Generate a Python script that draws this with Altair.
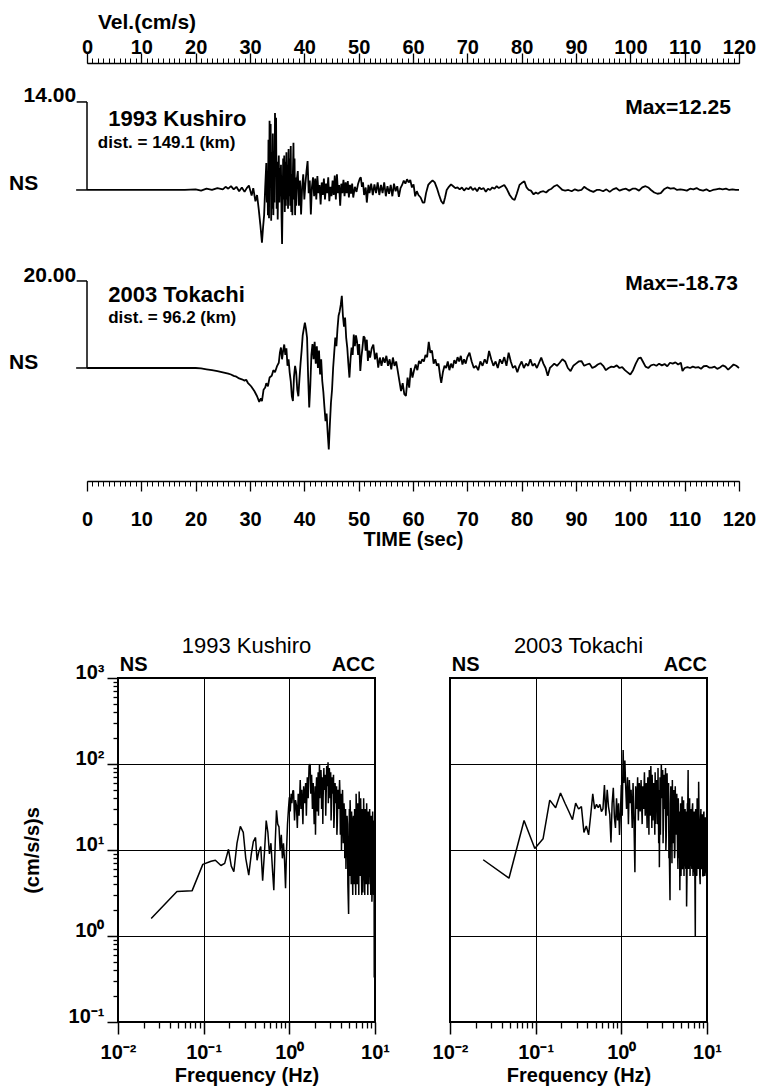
import altair as alt
import pandas as pd

FONT = "Liberation Sans"
BLACK = "black"

# ---------------- velocity seismograms (time s, velocity cm/s) ----------------
kushiro_trace = [
    (0, 0), (18, 0), (20, 0.1), (21, -0.1), (22, 0.2), (23, 0.0), (24, 0.3), (25, 0.1), (25.5, 0.5), (26, 0.2),
    (26.5, 0.6), (27, 0.1), (27.5, 0.5), (28, -0.2), (28.5, 0.4), (29, -0.3), (29.4, 0.3), (29.8, 0.7), (30.3, -0.9), (30.6, 0.3),
    (31.0, -1.8), (31.3, -0.8), (31.6, -3.0), (31.9, -5.5), (32.2, -8.4), (32.4, -6.0), (32.6, -4.0), (32.8, 0.5), (33.0, 4.3), (33.1, -2.0),
    (33.2, 3.0), (33.3, -4.0), (33.4, 8.0), (33.5, -4.5), (33.6, 11.0), (33.7, 2.0), (33.8, 10.5), (33.9, -4.9), (34.0, 6.0), (34.1, -3.0),
    (34.2, 9.0), (34.3, -4.0), (34.4, 3.0), (34.5, -2.0), (34.6, 12.25), (34.7, 6.0), (34.8, 11.5), (34.9, -3.0), (35.0, 4.5), (35.1, -4.7),
    (35.2, 2.0), (35.3, 5.5), (35.4, -2.0), (35.5, 3.5), (35.6, -1.0), (35.7, 4.0), (35.8, -4.0), (35.9, -8.6), (36.0, -2.0), (36.1, 5.0),
    (36.2, -1.5), (36.3, 5.5), (36.4, -3.5), (36.5, 4.5), (36.6, -2.5), (36.7, 6.0), (36.8, -1.5), (36.9, 4.0), (37.0, -3.0), (37.1, 6.5),
    (37.2, -1.0), (37.3, 5.0), (37.4, -2.5), (37.5, 7.0), (37.6, -3.5), (37.7, 2.5), (37.8, -4.0), (37.9, 3.0), (38.0, 7.5), (38.1, -1.5),
    (38.2, 5.0), (38.3, -4.0), (38.4, 2.0), (38.5, -2.5), (38.6, 1.5), (38.8, 3.0), (39.0, -2.5), (39.2, 1.5), (39.4, -3.9), (39.6, 0.5),
    (39.8, 2.5), (40.0, -1.5), (40.2, 1.0), (40.4, 3.0), (40.6, 4.6), (40.8, -0.5), (41.0, 1.5), (41.2, -3.9), (41.4, 0.5), (41.6, 2.0),
    (41.8, -1.0), (42.0, 1.8), (42.2, -1.5), (42.4, 2.2), (42.6, -0.5), (42.8, 0.8), (43.0, -2.3), (43.2, 1.2), (43.4, -0.8), (43.6, 1.8),
    (43.8, -1.5), (44.0, 1.0), (44.2, -0.5), (44.4, 2.0), (44.6, -1.8), (44.8, 0.5), (45.0, -1.0), (45.2, 1.5), (45.4, -0.8), (45.6, 2.3),
    (45.8, -1.5), (46.0, 2.5), (46.2, -0.5), (46.4, 0.8), (46.6, -2.5), (46.8, 1.0), (47.0, -0.5), (47.2, 1.6), (47.4, -1.0), (47.6, 1.2),
    (47.8, -0.5), (48.0, 1.4), (48.2, -1.2), (48.4, 0.8), (48.6, -0.6), (48.8, 1.0), (49.0, -1.2), (49.3, 0.5), (49.6, -0.3), (49.9, 1.0),
    (50.2, 1.8), (50.4, 2.0), (50.6, 0.5), (50.8, 1.2), (51.0, -0.8), (51.3, 0.4), (51.5, -2.0), (51.8, 0.8), (52.0, -0.5), (52.3, 1.0),
    (52.6, -0.8), (52.9, 0.9), (53.2, -0.5), (53.5, 1.2), (53.8, -0.8), (54.1, 0.8), (54.4, -0.5), (54.7, 1.2), (55.0, -1.0), (55.3, 0.6),
    (55.6, -0.6), (55.9, 0.8), (56.2, -1.0), (56.5, 1.0), (56.8, -0.2), (57.1, 0.6), (57.4, -1.1), (57.7, 0.3), (58.0, 0.8), (58.3, 1.5),
    (58.6, 1.0), (58.9, 1.7), (59.2, 1.2), (59.5, 1.6), (59.8, 0.4), (60.1, 0.9), (60.4, -1.0), (60.7, -0.2), (61.0, -0.8), (61.4, -1.2),
    (61.8, -2.0), (62.1, -2.0), (62.4, -0.5), (62.8, 0.8), (63.2, 1.2), (63.6, 1.5), (64.0, 1.2), (64.4, 0.3), (64.8, -0.8), (65.2, -1.8),
    (65.6, -2.2), (65.9, -1.2), (66.2, 0.0), (66.6, 0.5), (67.0, 0.9), (67.4, 0.6), (67.8, 0.3), (68.2, 0.4), (68.6, 0.1), (69.0, 0.4),
    (69.4, -0.1), (69.8, 0.3), (70.2, 0.1), (70.6, 0.5), (71.0, 0.0), (71.4, 0.3), (71.8, -0.2), (72.2, 0.4), (72.6, 0.1), (73.0, 0.3),
    (73.4, -0.3), (73.8, 0.2), (74.2, 0.0), (74.6, 0.4), (75.0, 0.2), (75.4, 0.6), (75.8, 0.3), (76.2, 0.5), (76.8, 0.8), (77.3, 0.1),
    (77.8, -0.8), (78.3, -1.4), (78.7, -1.6), (79.1, -0.6), (79.6, 0.8), (80.0, 1.1), (80.5, 1.4), (80.9, 0.4), (81.3, 0.0), (81.7, -0.1),
    (82.2, -0.7), (82.6, -0.4), (83.0, -0.6), (83.5, -0.3), (84.0, -0.2), (84.5, -0.4), (85.0, 0.0), (85.5, 0.2), (86.0, 0.6), (86.5, 0.8),
    (87.0, 0.4), (87.5, 0.0), (88.0, -0.1), (88.6, 0.0), (89.2, -0.2), (89.8, 0.1), (90.4, -0.1), (91.0, 0.0), (91.5, 0.5), (92.0, 0.2),
    (92.6, -0.1), (93.2, -0.3), (93.8, 0.0), (94.4, 0.0), (95.0, -0.2), (95.6, 0.1), (96.2, -0.3), (96.8, 0.1), (97.4, 0.3), (98.0, -0.1),
    (98.6, 0.1), (99.2, 0.2), (99.8, -0.1), (100.4, 0.2), (101.0, 0.2), (101.6, -0.1), (102.2, 0.4), (102.8, 0.6), (103.3, 0.4), (103.8, 0.0),
    (104.4, -0.4), (105.0, -0.6), (105.6, -0.5), (106.2, 0.1), (106.8, 0.4), (107.4, 0.2), (108.0, 0.3), (108.6, 0.0), (109.2, 0.1), (109.8, 0.0),
    (110.4, -0.1), (111.0, 0.2), (111.6, 0.1), (112.2, 0.3), (112.8, 0.0), (113.4, -0.1), (114.0, 0.1), (114.6, -0.2), (115.2, 0.0), (115.8, 0.1),
    (116.4, 0.2), (117.0, 0.1), (117.6, 0.2), (118.2, 0.0), (118.8, 0.1), (119.4, 0.0), (120.0, 0.0),
]

tokachi_trace = [
    (0, 0), (20, 0), (21, -0.1), (22, -0.3), (23, -0.5), (24, -0.7), (25, -1.0), (26, -1.3), (26.5, -1.5), (27, -1.8),
    (27.5, -2.0), (28, -2.4), (28.5, -2.6), (29, -2.9), (29.3, -2.7), (29.6, -3.4), (30.2, -4.2), (30.8, -5.3), (31.3, -6.5), (31.7, -7.8),
    (32.0, -7.0), (32.2, -7.6), (32.5, -5.0), (32.8, -4.5), (33.0, -3.5), (33.3, -4.2), (33.6, -2.2), (34.0, -1.8), (34.3, -0.5), (34.6, -1.0),
    (35.0, 0.5), (35.3, 1.2), (35.5, 3.5), (35.7, 4.7), (35.9, 2.0), (36.1, 4.0), (36.3, 5.4), (36.5, 3.0), (36.7, 4.5), (36.9, 0.5),
    (37.1, 2.0), (37.3, -1.0), (37.5, -3.0), (37.7, -6.5), (37.9, -7.6), (38.1, -2.0), (38.3, 0.5), (38.5, -1.0), (38.7, -5.0), (38.9, -6.5),
    (39.1, -2.5), (39.3, 1.0), (39.5, 4.0), (39.7, 7.5), (39.9, 9.0), (40.1, 10.4), (40.3, 9.0), (40.5, 7.0), (40.7, -2.0), (40.9, -9.1),
    (41.1, -4.0), (41.3, 3.0), (41.5, 5.5), (41.7, 2.0), (41.9, 6.0), (42.1, 1.0), (42.3, 5.0), (42.5, 0.0), (42.7, 4.0), (42.9, -1.5),
    (43.1, 2.0), (43.3, -3.0), (43.5, -5.5), (43.7, -9.0), (43.9, -12.2), (44.1, -10.5), (44.3, -15.0), (44.5, -18.73), (44.7, -13.0), (44.9, -8.0),
    (45.1, -5.0), (45.3, 0.0), (45.5, 3.5), (45.7, 7.0), (45.9, 5.0), (46.1, 9.0), (46.3, 12.0), (46.5, 13.0), (46.7, 14.5), (46.9, 16.6),
    (47.1, 12.0), (47.3, 9.5), (47.5, 11.6), (47.7, 7.0), (47.9, 4.7), (48.1, 1.0), (48.3, -2.2), (48.5, 2.0), (48.7, 4.7), (48.9, 3.0),
    (49.1, 7.7), (49.3, 5.0), (49.5, 7.5), (49.7, 6.1), (49.9, 3.0), (50.1, 5.5), (50.3, -0.7), (50.5, 2.5), (50.7, 4.7), (50.9, 7.3),
    (51.1, 7.0), (51.3, 4.0), (51.5, 6.5), (51.7, 1.6), (51.9, 4.0), (52.1, 2.4), (52.4, 4.5), (52.7, 5.4), (53.0, 2.0), (53.3, 3.5),
    (53.6, 0.1), (53.9, 2.4), (54.2, 0.5), (54.5, 2.4), (54.8, 1.2), (55.1, 2.8), (55.4, 0.5), (55.7, 2.0), (56.0, -0.3), (56.3, 2.4),
    (56.6, 0.5), (56.9, 1.5), (57.2, -0.7), (57.5, -3.0), (57.8, -5.3), (58.1, -3.5), (58.4, -6.0), (58.7, -6.4), (59.0, -2.2), (59.3, -4.5),
    (59.6, 0.0), (59.9, -2.2), (60.2, -0.5), (60.5, 0.8), (60.8, -0.5), (61.1, 1.6), (61.4, 1.0), (61.7, 2.0), (62.0, 1.5), (62.3, 3.0),
    (62.6, 2.5), (62.9, 6.0), (63.2, 3.5), (63.5, 4.0), (63.8, 1.0), (64.1, 2.0), (64.4, 0.5), (64.7, 1.0), (65.0, -2.0), (65.2, -3.4),
    (65.5, -1.0), (65.8, 0.5), (66.1, 0.0), (66.4, 1.5), (66.7, -0.5), (67.0, 1.0), (67.3, 0.0), (67.6, 1.8), (67.9, 1.0), (68.2, 2.5),
    (68.5, 1.5), (68.8, 2.8), (69.1, 0.8), (69.4, 2.0), (69.7, 1.0), (70.0, 2.5), (70.4, 3.5), (70.8, 1.5), (71.2, 0.0), (71.6, 0.5),
    (72.0, -0.5), (72.4, 1.5), (72.8, 0.5), (73.2, 2.0), (73.6, 1.0), (74.0, 3.9), (74.4, 2.0), (74.8, 0.5), (75.2, 1.5), (75.6, 0.0),
    (76.0, 2.0), (76.4, 1.0), (76.8, 2.5), (77.2, 0.5), (77.6, 3.5), (78.0, 1.5), (78.4, 0.0), (78.8, 0.5), (79.2, -1.0), (79.6, 0.5),
    (80.0, 1.5), (80.4, 0.0), (80.8, 1.0), (81.2, 0.5), (81.6, 2.0), (82.0, 0.5), (82.4, 1.0), (82.8, 0.0), (83.2, 1.2), (83.6, 2.4),
    (84.0, 1.0), (84.4, 0.0), (84.8, -1.8), (85.2, 0.0), (85.6, 0.5), (86.0, 1.0), (86.5, 0.5), (87.0, 1.2), (87.5, 2.0), (88.0, 1.5),
    (88.5, 0.0), (89.0, -0.7), (89.5, 0.5), (90.0, 1.0), (90.5, 1.5), (91.0, 1.6), (91.5, 0.5), (92.0, 0.8), (92.5, 1.0), (93.0, 0.0),
    (93.5, 0.3), (94.0, 0.8), (94.5, 1.1), (95.0, 0.5), (95.5, -0.5), (96.0, 0.0), (96.5, 0.3), (97.0, 0.2), (97.5, 0.6), (98.0, 0.0),
    (98.5, 0.2), (99.0, -0.5), (99.5, -1.0), (100.0, -1.5), (100.5, -0.5), (101.0, 1.0), (101.5, 2.2), (101.9, 2.4), (102.3, 1.5), (102.8, 0.3),
    (103.3, 0.0), (103.8, 0.6), (104.3, 0.8), (104.8, 0.5), (105.3, 1.0), (105.8, 0.6), (106.3, 0.9), (106.8, 0.4), (107.3, 1.2), (107.8, 1.0),
    (108.3, 1.3), (108.8, 0.8), (109.3, 1.2), (109.6, -0.7), (110.0, 0.0), (110.5, 0.2), (111.0, 0.0), (111.5, 0.3), (112.0, 0.1), (112.5, 0.2),
    (113.0, -0.2), (113.5, 0.4), (114.0, 0.5), (114.5, 0.1), (115.0, 0.1), (115.5, 0.3), (116.0, -0.2), (116.5, 0.1), (117.0, 0.6), (117.5, 0.3),
    (118.0, -0.4), (118.5, 0.2), (119.0, 0.8), (119.5, 0.5), (120.0, 0.0),
]

# ---------------- Fourier spectra (frequency Hz, amplitude (cm/s/s)s) ----------------
kushiro_spectrum = [
    (0.0244, 1.6), (0.0488, 3.3), (0.0732, 3.35), (0.0977, 6.8), (0.122, 7.4), (0.137, 7.6), (0.159, 6.6), (0.176, 7.0), (0.195, 10.2), (0.21, 6.5),
    (0.225, 5.6), (0.245, 12.0), (0.268, 18.8), (0.29, 16.0), (0.31, 8.0), (0.336, 5.1), (0.36, 9.0), (0.38, 12.5), (0.403, 14.0), (0.42, 7.6),
    (0.44, 9.5), (0.464, 11.0), (0.488, 4.4), (0.513, 9.5), (0.537, 22.0), (0.562, 16.0), (0.586, 9.0), (0.61, 12.0), (0.635, 6.0), (0.659, 3.4),
    (0.684, 12.0), (0.708, 29.0), (0.732, 20.0), (0.757, 18.6), (0.781, 10.0), (0.806, 15.0), (0.83, 8.0), (0.854, 12.0), (0.879, 7.6), (0.903, 3.6),
    (0.928, 10.0), (0.952, 20.0), (0.977, 30.0), (1.0, 41.0), (1.025, 28.0), (1.05, 45.0), (1.07, 35.0), (1.1, 49.0), (1.12, 49.0), (1.15, 22.0),
    (1.18, 38.0), (1.21, 33.0), (1.24, 18.0), (1.27, 45.0), (1.30, 25.0), (1.34, 65.0), (1.37, 30.0), (1.40, 50.0), (1.44, 20.0), (1.47, 55.0),
    (1.51, 35.0), (1.55, 60.0), (1.58, 25.0), (1.62, 70.0), (1.66, 40.0), (1.70, 95.0), (1.75, 100.0), (1.78, 45.0), (1.82, 75.0), (1.86, 30.0),
    (1.90, 60.0), (1.95, 20.0), (2.00, 55.0), (2.04, 35.0), (2.08, 70.0), (2.12, 28.0), (2.17, 80.0), (2.21, 45.0), (2.25, 100.0), (2.29, 60.0),
    (2.34, 85.0), (2.38, 30.0), (2.43, 70.0), (2.48, 40.0), (2.53, 90.0), (2.58, 50.0), (2.63, 75.0), (2.68, 35.0), (2.73, 95.0), (2.78, 55.0),
    (2.83, 105.0), (2.87, 60.0), (2.93, 90.0), (2.98, 40.0), (3.04, 80.0), (3.10, 30.0), (3.16, 70.0), (3.22, 45.0), (3.28, 75.0), (3.35, 25.0),
    (3.42, 60.0), (3.49, 35.0), (3.56, 55.0), (3.63, 20.0), (3.70, 50.0), (3.78, 30.0), (3.86, 65.0), (3.94, 15.0), (4.02, 45.0), (4.10, 20.0),
    (4.18, 50.0), (4.26, 12.0), (4.35, 35.0), (4.44, 8.0), (4.53, 30.0), (4.62, 10.0), (4.72, 25.0), (4.82, 4.0), (4.92, 1.8), (5.02, 30.0),
    (5.12, 38.0), (5.22, 10.0), (5.33, 28.0), (5.44, 6.0), (5.55, 22.0), (5.66, 8.0), (5.78, 30.0), (5.90, 5.0), (6.02, 45.0), (6.14, 10.0),
    (6.27, 35.0), (6.40, 7.0), (6.53, 48.0), (6.66, 12.0), (6.80, 40.0), (6.94, 6.0), (7.08, 30.0), (7.22, 3.2), (7.37, 40.0), (7.52, 8.0),
    (7.67, 30.0), (7.83, 5.0), (7.99, 35.0), (8.15, 10.0), (8.32, 28.0), (8.49, 4.0), (8.66, 30.0), (8.84, 6.0), (9.02, 25.0), (9.20, 2.5),
    (9.39, 28.0), (9.58, 5.0), (9.70, 22.0), (9.80, 0.33), (9.90, 15.0), (10.0, 3.0),
]
# further readings of the dense high-frequency band (2-10 Hz)
kushiro_spectrum_hf = [
    (2.02, 15.0), (2.10, 50.0), (2.19, 25.0), (2.27, 40.0), (2.36, 65.0), (2.46, 20.0), (2.55, 55.0), (2.66, 25.0), (2.76, 80.0), (2.85, 35.0),
    (2.96, 70.0), (3.07, 22.0), (3.19, 55.0), (3.31, 18.0), (3.45, 45.0), (3.59, 15.0), (3.74, 40.0), (3.90, 45.0), (4.06, 10.0), (4.22, 30.0),
    (4.40, 25.0), (4.58, 6.0), (4.77, 20.0), (4.97, 12.0), (5.07, 5.0), (5.17, 25.0), (5.28, 4.0), (5.39, 20.0), (5.50, 3.0), (5.61, 25.0),
    (5.72, 4.0), (5.84, 18.0), (5.96, 3.0), (6.08, 25.0), (6.21, 4.0), (6.34, 20.0), (6.47, 3.0), (6.60, 30.0), (6.73, 5.0), (6.87, 22.0),
    (7.01, 3.0), (7.15, 25.0), (7.30, 6.0), (7.45, 20.0), (7.60, 3.0), (7.75, 22.0), (7.91, 4.0), (8.07, 20.0), (8.24, 3.0), (8.40, 18.0),
    (8.57, 8.0), (8.75, 20.0), (8.93, 3.0), (9.11, 18.0), (9.30, 4.0), (9.48, 15.0), (9.64, 3.0), (9.75, 12.0), (9.85, 6.0), (9.95, 1.0),
]

tokachi_spectrum = [
    (0.0244, 7.7), (0.0488, 4.7), (0.0732, 22.0), (0.0977, 10.4), (0.122, 13.5), (0.146, 38.0), (0.171, 31.0), (0.195, 46.0), (0.22, 35.0), (0.244, 28.0),
    (0.269, 22.5), (0.293, 35.0), (0.317, 30.0), (0.342, 32.0), (0.366, 16.0), (0.39, 19.0), (0.415, 15.0), (0.44, 26.0), (0.464, 45.0), (0.488, 30.0),
    (0.513, 34.0), (0.537, 31.0), (0.562, 34.0), (0.586, 28.0), (0.61, 30.0), (0.635, 57.0), (0.659, 25.0), (0.684, 50.0), (0.708, 32.0), (0.732, 26.0),
    (0.757, 12.2), (0.781, 35.0), (0.806, 53.0), (0.83, 24.0), (0.854, 18.0), (0.879, 40.0), (0.903, 22.0), (0.928, 35.0), (0.952, 15.0), (0.977, 28.0),
    (1.0, 57.0), (1.025, 25.0), (1.05, 145.0), (1.07, 60.0), (1.1, 110.0), (1.12, 60.0), (1.15, 30.0), (1.18, 70.0), (1.21, 20.0), (1.24, 65.0),
    (1.27, 35.0), (1.30, 50.0), (1.34, 18.0), (1.37, 60.0), (1.40, 25.0), (1.44, 5.5), (1.47, 55.0), (1.51, 30.0), (1.55, 70.0), (1.58, 22.0),
    (1.62, 60.0), (1.66, 28.0), (1.70, 65.0), (1.75, 20.0), (1.78, 55.0), (1.82, 30.0), (1.86, 80.0), (1.90, 25.0), (1.95, 60.0), (2.00, 18.0),
    (2.04, 70.0), (2.08, 35.0), (2.12, 85.0), (2.17, 25.0), (2.21, 95.0), (2.25, 40.0), (2.29, 75.0), (2.34, 22.0), (2.38, 60.0), (2.43, 30.0),
    (2.48, 80.0), (2.53, 20.0), (2.58, 65.0), (2.63, 35.0), (2.68, 90.0), (2.73, 12.0), (2.78, 6.3), (2.83, 70.0), (2.88, 30.0), (2.93, 100.0),
    (2.98, 40.0), (3.04, 85.0), (3.10, 20.0), (3.16, 75.0), (3.22, 30.0), (3.28, 90.0), (3.35, 15.0), (3.42, 78.0), (3.49, 25.0), (3.56, 60.0),
    (3.63, 10.0), (3.70, 2.6), (3.78, 55.0), (3.86, 20.0), (3.94, 65.0), (4.02, 12.0), (4.10, 50.0), (4.18, 8.0), (4.26, 55.0), (4.35, 15.0),
    (4.44, 45.0), (4.53, 10.0), (4.62, 40.0), (4.72, 8.0), (4.82, 3.4), (4.92, 35.0), (5.02, 10.0), (5.12, 42.0), (5.22, 7.0), (5.33, 38.0),
    (5.44, 12.0), (5.55, 30.0), (5.66, 6.0), (5.78, 2.2), (5.90, 35.0), (6.02, 85.0), (6.14, 8.0), (6.27, 40.0), (6.40, 12.0), (6.53, 30.0),
    (6.66, 6.0), (6.80, 35.0), (6.94, 8.0), (7.08, 28.0), (7.22, 5.0), (7.30, 1.0), (7.37, 30.0), (7.52, 7.0), (7.67, 40.0), (7.83, 10.0),
    (7.99, 62.0), (8.15, 8.0), (8.32, 4.0), (8.49, 30.0), (8.66, 6.0), (8.84, 26.0), (9.02, 5.0), (9.20, 28.0), (9.39, 6.0), (9.58, 24.0),
    (9.80, 5.0), (10.0, 20.0),
]
tokachi_spectrum_hf = [
    (2.02, 45.0), (2.10, 15.0), (2.19, 60.0), (2.27, 18.0), (2.36, 50.0), (2.46, 15.0), (2.55, 45.0), (2.66, 20.0), (2.76, 50.0), (2.86, 15.0),
    (2.96, 55.0), (3.07, 12.0), (3.19, 45.0), (3.31, 10.0), (3.45, 40.0), (3.59, 8.0), (3.74, 35.0), (3.90, 7.0), (4.06, 35.0), (4.22, 10.0),
    (4.40, 30.0), (4.58, 6.0), (4.77, 28.0), (4.97, 5.0), (5.07, 25.0), (5.17, 6.0), (5.28, 30.0), (5.39, 5.0), (5.50, 25.0), (5.61, 7.0),
    (5.72, 28.0), (5.84, 5.0), (5.96, 30.0), (6.08, 6.0), (6.21, 35.0), (6.34, 5.0), (6.47, 25.0), (6.60, 7.0), (6.73, 30.0), (6.87, 5.0),
    (7.01, 25.0), (7.15, 6.0), (7.45, 25.0), (7.60, 5.0), (7.75, 30.0), (7.91, 6.0), (8.07, 25.0), (8.24, 5.0), (8.40, 22.0), (8.57, 7.0),
    (8.75, 20.0), (8.93, 5.0), (9.11, 25.0), (9.30, 5.0), (9.48, 20.0), (9.69, 6.0), (9.90, 18.0),
]

# ---------------- axis ticks / labels ----------------
time_major = list(range(0, 121, 10))
time_minor = list(range(0, 121))
freq_decades = [0.01, 0.1, 1, 10]
freq_labels = ["10⁻²", "10⁻¹", "10⁰", "10¹"]
freq_minor = [round(m * d, 4) for d in (0.01, 0.1, 1) for m in range(2, 10)]
amp_decades = [0.1, 1, 10, 100, 1000]
amp_labels = ["10⁻¹", "10⁰", "10¹", "10²", "10³"]
amp_minor = [round(m * d, 4) for d in (0.1, 1, 10, 100) for m in range(2, 10)]

# vertical window (cm/s) of each trace inside the shared seismogram panel
kushiro_window = [-46.30, 20.20]
tokachi_window = [-25.98, 70.11]

# annotations of the seismogram panel (time s, velocity cm/s)
kushiro_left_text = pd.DataFrame({
    "t": [-14.36, 3.9, 2.0], "v": [0.9, 11.25, 7.5],
    "label": ["NS", "1993 Kushiro", "dist. = 149.1 (km)"], "size": [21, 22, 17]})
kushiro_right_text = pd.DataFrame({
    "t": [-2.0, 118.5], "v": [14.95, 13.1], "label": ["14.00", "Max=12.25"], "size": [21, 21]})
kushiro_bar = pd.DataFrame({"t0": [0, -1.9, -2.0], "t1": [0, 0, 0], "v0": [0, 14, 0], "v1": [14, 14, 0]})
tokachi_left_text = pd.DataFrame({
    "t": [-14.36, 3.9, 3.9], "v": [1.26, 16.7, 11.6],
    "label": ["NS", "2003 Tokachi", "dist. = 96.2 (km)"], "size": [21, 22, 17]})
tokachi_right_text = pd.DataFrame({
    "t": [-2.0, 119.8], "v": [21.15, 19.3], "label": ["20.00", "Max=-18.73"], "size": [21, 21]})
tokachi_bar = pd.DataFrame({"t0": [0, -1.9, -2.0], "t1": [0, 0, 0], "v0": [0, 20, 0], "v1": [20, 20, 0]})


def label_expr(values, labels):
    expr = "''"
    for v, lab in zip(reversed(values), reversed(labels)):
        expr = f"abs(datum.value - {v}) < {v} * 0.001 ? '{lab}' : ({expr})"
    return expr


time_scale = alt.Scale(domain=[0, 120], nice=False, zero=False)
lab = dict(labelFont=FONT, labelFontWeight="bold", labelFontSize=20, labelColor=BLACK)
ttl = dict(titleFont=FONT, titleFontWeight="bold", titleFontSize=20, titleColor=BLACK)

ax_top_major = alt.Axis(orient="top", values=time_major, tickSize=10, tickWidth=1.3, tickColor=BLACK,
                        domain=True, domainColor=BLACK, domainWidth=1.5, grid=False, labelPadding=-4,
                        labelOverlap=False, labelFlush=False, title=None, **lab)
ax_top_minor = alt.Axis(orient="top", values=time_minor, tickSize=5, tickWidth=1, tickColor=BLACK,
                        domain=False, grid=False, labels=False, title=None)
ax_bot_major = alt.Axis(orient="bottom", values=time_major, tickSize=10, tickWidth=1.3, tickColor=BLACK,
                        domain=True, domainColor=BLACK, domainWidth=1.5, grid=False, labelPadding=18,
                        labelOverlap=False, labelFlush=False, title="TIME (sec)", titlePadding=0, **lab, **ttl)
ax_bot_minor = alt.Axis(orient="bottom", values=time_minor, tickSize=5, tickWidth=1, tickColor=BLACK,
                        domain=False, grid=False, labels=False, title=None)


def trace_line(samples, window, axis):
    df = pd.DataFrame(samples, columns=["t", "v"])
    return alt.Chart(df).mark_line(color=BLACK, strokeWidth=1.8, strokeJoin="bevel").encode(
        x=alt.X("t:Q", scale=time_scale, axis=axis),
        y=alt.Y("v:Q", scale=alt.Scale(domain=window, nice=False, zero=False), axis=None),
    )


def trace_text(df, window, align, axis):
    return alt.Chart(df).mark_text(align=align, baseline="middle", font=FONT, fontWeight="bold",
                                   color=BLACK).encode(
        x=alt.X("t:Q", scale=time_scale, axis=axis),
        y=alt.Y("v:Q", scale=alt.Scale(domain=window, nice=False, zero=False), axis=None),
        text="label:N",
        size=alt.Size("size:Q", scale=None, legend=None),
    )


def trace_bar(df, window):
    return alt.Chart(df).mark_rule(color=BLACK, strokeWidth=1.5).encode(
        x=alt.X("t0:Q", scale=time_scale, axis=None), x2="t1:Q",
        y=alt.Y("v0:Q", scale=alt.Scale(domain=window, nice=False, zero=False), axis=None), y2="v1:Q",
    )


seis = alt.layer(
    trace_line(kushiro_trace, kushiro_window, ax_top_major),
    trace_line(tokachi_trace, tokachi_window, ax_bot_major),
    trace_text(kushiro_left_text, kushiro_window, "left", ax_top_minor),
    trace_text(kushiro_right_text, kushiro_window, "right", None),
    trace_bar(kushiro_bar, kushiro_window),
    trace_text(tokachi_left_text, tokachi_window, "left", ax_bot_minor),
    trace_text(tokachi_right_text, tokachi_window, "right", None),
    trace_bar(tokachi_bar, tokachi_window),
).resolve_scale(y="independent").resolve_axis(x="independent", y="independent").properties(
    width=652, height=418,
    title=alt.TitleParams("Vel.(cm/s)", anchor="start", frame="group", dx=11, offset=4,
                          font=FONT, fontSize=21, fontWeight="bold", color=BLACK),
)


def spectrum(samples, name, with_y_labels):
    df = pd.DataFrame(samples, columns=["f", "a"])
    xs = alt.Scale(type="log", domain=[0.01, 10], nice=False)
    ys = alt.Scale(type="log", domain=[0.1, 1000], nice=False)
    x_major = alt.Axis(orient="bottom", values=freq_decades, labelExpr=label_expr(freq_decades, freq_labels),
                       tickSize=12, tickWidth=1.5, tickColor=BLACK, grid=True, gridColor=BLACK, gridWidth=1,
                       gridOpacity=1, domain=False, labelPadding=8, labelOverlap=False, labelFlush=False,
                       title="Frequency (Hz)", titlePadding=3, **lab, **ttl)
    x_minor = alt.Axis(orient="bottom", values=freq_minor, tickSize=6, tickWidth=1.3, tickColor=BLACK,
                       labels=False, domain=False, grid=False, title=None)
    if with_y_labels:
        y_major = alt.Axis(orient="left", values=amp_decades, labelExpr=label_expr(amp_decades, amp_labels),
                           tickSize=11, tickWidth=1.5, tickColor=BLACK, grid=True, gridColor=BLACK, gridWidth=1,
                           gridOpacity=1, domain=False, labelPadding=3, labelOverlap=False,
                           labelFlush=False, labelBaseline="alphabetic", title="(cm/s/s)s",
                           titlePadding=26, **lab, **ttl)
        y_minor = alt.Axis(orient="left", values=amp_minor, tickSize=5, tickWidth=1.3, tickColor=BLACK,
                           labels=False, domain=False, grid=False, title=None)
    else:
        y_major = alt.Axis(orient="left", values=amp_decades, labels=False, ticks=False, grid=True,
                           gridColor=BLACK, gridWidth=1, gridOpacity=1, domain=False, title=None)
        y_minor = None
    line = alt.Chart(df).mark_line(color=BLACK, strokeWidth=1.5, strokeJoin="bevel", clip=True).encode(
        x=alt.X("f:Q", scale=xs, axis=x_major),
        y=alt.Y("a:Q", scale=ys, axis=y_major),
    )
    ns = alt.Chart(pd.DataFrame({"f": [0.0105], "a": [1000], "label": ["NS"]})).mark_text(
        align="left", baseline="alphabetic", dy=-7, font=FONT, fontWeight="bold", fontSize=20, color=BLACK
    ).encode(x=alt.X("f:Q", scale=xs, axis=x_minor), y=alt.Y("a:Q", scale=ys, axis=y_minor), text="label:N")
    acc = alt.Chart(pd.DataFrame({"f": [10], "a": [1000], "label": ["ACC"]})).mark_text(
        align="right", baseline="alphabetic", dy=-7, font=FONT, fontWeight="bold", fontSize=20, color=BLACK
    ).encode(x=alt.X("f:Q", scale=xs, axis=None), y=alt.Y("a:Q", scale=ys, axis=None), text="label:N")
    return alt.layer(line, ns, acc).resolve_axis(x="independent", y="independent").properties(
        width=257, height=344,
        title=alt.TitleParams(name, anchor="middle", frame="group", offset=-3, font=FONT, fontSize=22,
                              fontWeight="normal", color=BLACK),
        view=alt.ViewBackground(stroke=BLACK, strokeWidth=2),
    )


# a 1-px empty column that shifts the spectra row 31 px right of the seismogram panel
spacer = alt.Chart(pd.DataFrame({"s": [""]})).mark_text().encode(text="s:N").properties(width=1, height=344)

spectra_pair = alt.hconcat(
    spectrum(kushiro_spectrum + kushiro_spectrum_hf, "1993 Kushiro", True),
    spectrum(tokachi_spectrum + tokachi_spectrum_hf, "2003 Tokachi", False),
    spacing=75, bounds="flush",
)
spectra = alt.hconcat(spacer, spectra_pair, spacing=30, bounds="flush")

chart = alt.vconcat(seis, spectra, spacing=85).properties(
    padding={"top": 4, "left": 0, "right": 0, "bottom": 0}
).configure_view(strokeWidth=0)

chart.save("out.html", embed_options={"renderer": "svg", "actions": False})
